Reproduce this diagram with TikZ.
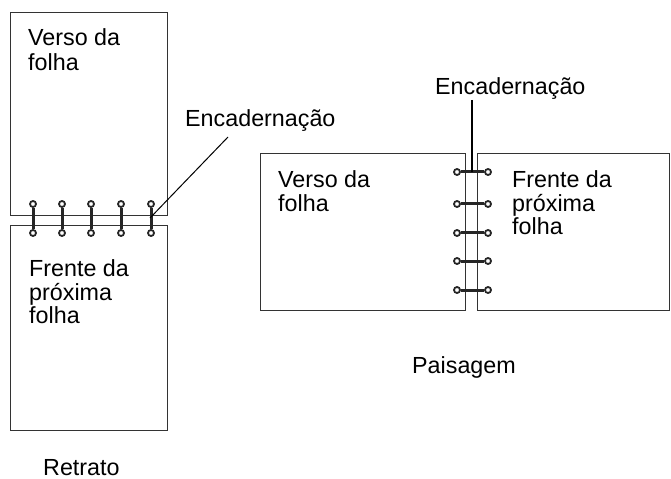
\documentclass[tikz,border=0pt]{standalone}
\usepackage{fontspec}
\setmainfont{Liberation Sans}
\begin{document}
\begin{tikzpicture}[x=1bp,y=-1bp,
  sheet/.style={draw=black!80, line width=1.3bp, inner sep=0pt, anchor=north west},
  lbl/.style={anchor=base west, inner sep=0pt, font=\fontsize{23.3bp}{24bp}\selectfont},
  ringbar/.style={line width=3bp, draw=black!85},
  eye/.style={circle, draw=black!85, line width=1.8bp, fill=white, inner sep=0pt, minimum size=6bp},
  leader/.style={line width=1bp, draw=black}]
\useasboundingbox (0,0) rectangle (671,479);

% portrait sheets
\node[sheet, minimum width=157bp, minimum height=203bp] (ptop) at (10,12) {};
\node[sheet, minimum width=157bp, minimum height=205bp] (pbot) at (10,225) {};
% landscape sheets
\node[sheet, minimum width=205bp, minimum height=157bp] (lleft) at (260,153) {};
\node[sheet, minimum width=192bp, minimum height=157bp] (lright) at (477,153) {};

% portrait rings
\foreach \i/\x in {1/33,2/62,3/91,4/121,5/151} {
  \node[eye] (pt\i) at (\x,204) {};
  \node[eye] (pb\i) at (\x,233) {};
  \draw[ringbar] (pt\i) -- (pb\i);
}
% landscape rings
\foreach \i/\y in {1/172,2/204,3/233,4/261,5/290} {
  \node[eye] (ll\i) at (457,\y) {};
  \node[eye] (lr\i) at (488,\y) {};
  \draw[ringbar] (ll\i) -- (lr\i);
}

% texts
\node[lbl] (vp1) at (28,46) {Verso da};
\node[lbl] (vp2) at (28,71) {folha};
\node[lbl] (fp1) at (29,276) {Frente da};
\node[lbl] (fp2) at (29,300) {próxima};
\node[lbl] (fp3) at (29,323) {folha};
\node[lbl] (enc1) at (185,127) {Encadernação};
\node[lbl] (ret) at (43,475) {Retrato};
\node[lbl] (vl1) at (278,188) {Verso da};
\node[lbl] (vl2) at (278,212) {folha};
\node[lbl] (fl1) at (512,188) {Frente da};
\node[lbl] (fl2) at (512,212) {próxima};
\node[lbl] (fl3) at (512,235) {folha};
\node[lbl] (enc2) at (435,95) {Encadernação};
\node[lbl] (pai) at (412,373) {Paisagem};

% leaders
\coordinate (pa) at (228,137);
\coordinate (pz) at (150,218);
\draw[leader] (pa) -- (pz);
\coordinate (la) at (472,100);
\coordinate (lz) at (472,172);
\draw[leader, line width=1.8bp] (la) -- (lz);
\end{tikzpicture}
\end{document}
